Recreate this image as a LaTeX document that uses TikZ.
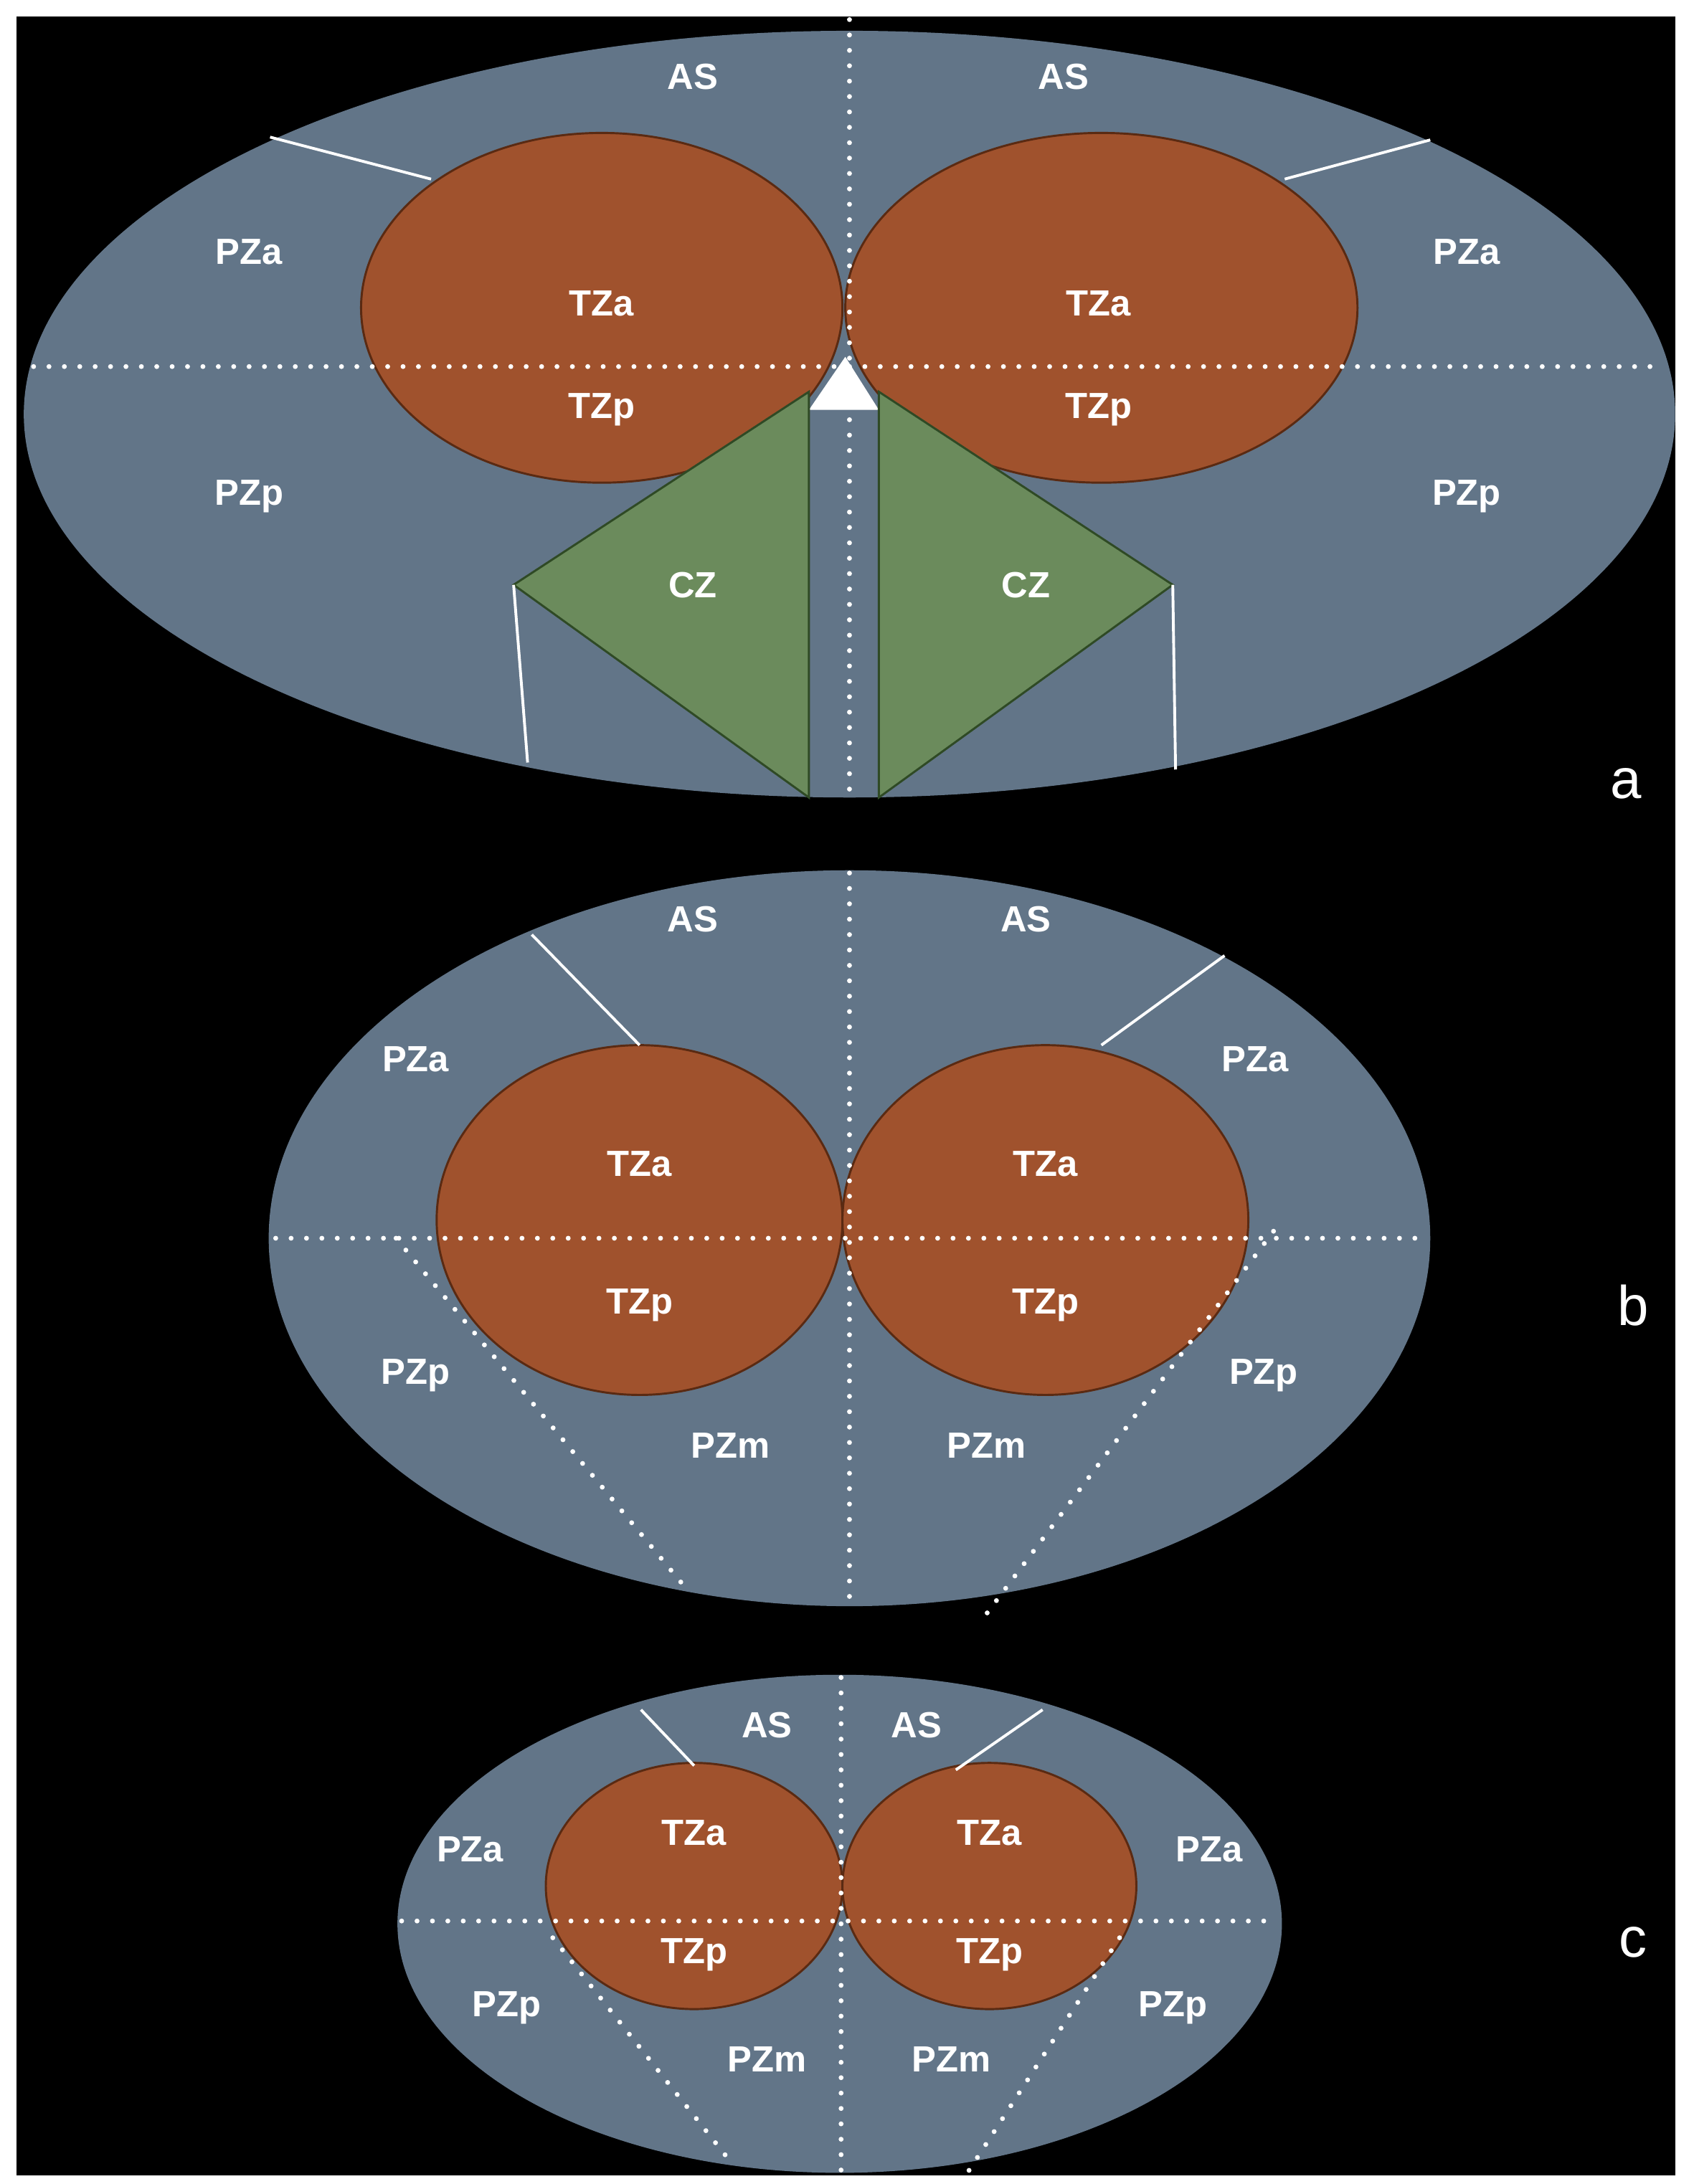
\documentclass[tikz,border=0pt]{standalone}
\usepackage{fontspec}
\setmainfont{Liberation Sans}
\begin{document}
\begin{tikzpicture}[x=1pt,y=-1pt,
  pz/.style={fill=slate,draw=none},
  tz/.style={fill=tzc,draw=tzb,line width=1.5pt},
  cz/.style={fill=czc,draw=czb,line width=1.5pt},
  dots/.style={white,line width=3.5pt,line cap=round,dash pattern=on 0pt off 11pt},
  wl/.style={white,line width=2pt},
  lab/.style={text=white,font=\fontsize{26}{28}\selectfont\bfseries},
  pl/.style={text=white,font=\fontsize{40}{42}\selectfont}]
\definecolor{slate}{HTML}{627588}
\definecolor{tzc}{HTML}{A0522D}
\definecolor{tzb}{HTML}{5A2A12}
\definecolor{czc}{HTML}{6B8B5C}
\definecolor{czb}{HTML}{2F4A25}
\useasboundingbox (0,0) rectangle (1210,1561);
\fill[white] (0,0) rectangle (1210,1561);
\fill[black] (12,12) rectangle (1197,1555);
% ---- a ----
\fill[pz] (607,296) ellipse [x radius=590pt, y radius=274pt];
\draw[tz] (430,220) ellipse [x radius=172pt, y radius=125pt];
\draw[tz] (787,220) ellipse [x radius=183pt, y radius=125pt];
\draw[dots] (607,14) -- (607,570);
\draw[dots] (24,262) -- (1190,262);
\fill[white] (604,255) -- (628,293) -- (578,293) -- cycle;
\draw[cz] (578,280) -- (367,418) -- (578,570) -- cycle;
\draw[cz] (628,280) -- (838,418) -- (628,570) -- cycle;
\coordinate (a1) at (193,98); \coordinate (a2) at (308,128);
\coordinate (a3) at (918,128); \coordinate (a4) at (1022,100);
\coordinate (a5) at (367,418); \coordinate (a6) at (377,545);
\coordinate (a7) at (838,418); \coordinate (a8) at (840,550);
\draw[wl] (a1)--(a2); \draw[wl] (a3)--(a4); \draw[wl] (a5)--(a6); \draw[wl] (a7)--(a8);
\node[lab] (aAS1) at (495,55) {AS}; \node[lab] (aAS2) at (760,55) {AS};
\node[lab] (aPZa1) at (178,180) {PZa}; \node[lab] (aPZa2) at (1048,180) {PZa};
\node[lab] (aTZa1) at (430,217) {TZa}; \node[lab] (aTZa2) at (785,217) {TZa};
\node[lab] (aTZp1) at (430,293) {TZp}; \node[lab] (aTZp2) at (785,293) {TZp};
\node[lab] (aPZp1) at (178,355) {PZp}; \node[lab] (aPZp2) at (1048,355) {PZp};
\node[lab] (aCZ1) at (495,418) {CZ}; \node[lab] (aCZ2) at (733,418) {CZ};
\node[pl] (la) at (1162,560) {a};
% ---- b ----
\fill[pz] (607,885) ellipse [x radius=415pt, y radius=263pt];
\draw[tz] (457,872) ellipse [x radius=145pt, y radius=125pt];
\draw[tz] (747,872) ellipse [x radius=145pt, y radius=125pt];
\draw[dots] (607,624) -- (607,1146);
\draw[dots] (197,885) -- (1020,885);
\draw[dots] (283,885) -- (490,1135);
\draw[dots] (910,880) -- (700,1160);
\coordinate (b1) at (380,668); \coordinate (b2) at (457,747);
\coordinate (b3) at (875,683); \coordinate (b4) at (787,747);
\draw[wl] (b1)--(b2); \draw[wl] (b3)--(b4);
\node[lab] (bAS1) at (495,657) {AS}; \node[lab] (bAS2) at (733,657) {AS};
\node[lab] (bPZa1) at (297,757) {PZa}; \node[lab] (bPZa2) at (897,757) {PZa};
\node[lab] (bTZa1) at (457,832) {TZa}; \node[lab] (bTZa2) at (747,832) {TZa};
\node[lab] (bTZp1) at (457,933) {TZp}; \node[lab] (bTZp2) at (747,933) {TZp};
\node[lab] (bPZp1) at (297,983) {PZp}; \node[lab] (bPZp2) at (903,983) {PZp};
\node[lab] (bPZm1) at (522,1033) {PZm}; \node[lab] (bPZm2) at (705,1033) {PZm};
\node[pl] (lb) at (1167,933) {b};
% ---- c ----
\fill[pz] (600,1375) ellipse [x radius=316pt, y radius=178pt];
\draw[tz] (496,1348) ellipse [x radius=106pt, y radius=88pt];
\draw[tz] (707,1348) ellipse [x radius=105pt, y radius=88pt];
\draw[dots] (601,1199) -- (601,1553);
\draw[dots] (287,1373) -- (913,1373);
\draw[dots] (395,1385) -- (522,1545);
\draw[dots] (800,1385) -- (690,1555);
\coordinate (c1) at (458,1222); \coordinate (c2) at (496,1262);
\coordinate (c3) at (745,1222); \coordinate (c4) at (683,1265);
\draw[wl] (c1)--(c2); \draw[wl] (c3)--(c4);
\node[lab] (cAS1) at (548,1233) {AS}; \node[lab] (cAS2) at (655,1233) {AS};
\node[lab] (cPZa1) at (336,1322) {PZa}; \node[lab] (cPZa2) at (864,1322) {PZa};
\node[lab] (cTZa1) at (496,1310) {TZa}; \node[lab] (cTZa2) at (707,1310) {TZa};
\node[lab] (cTZp1) at (496,1397) {TZp}; \node[lab] (cTZp2) at (707,1397) {TZp};
\node[lab] (cPZp1) at (362,1435) {PZp}; \node[lab] (cPZp2) at (838,1435) {PZp};
\node[lab] (cPZm1) at (548,1472) {PZm}; \node[lab] (cPZm2) at (680,1472) {PZm};
\node[pl] (lc) at (1167,1388) {c};
\end{tikzpicture}
\end{document}
